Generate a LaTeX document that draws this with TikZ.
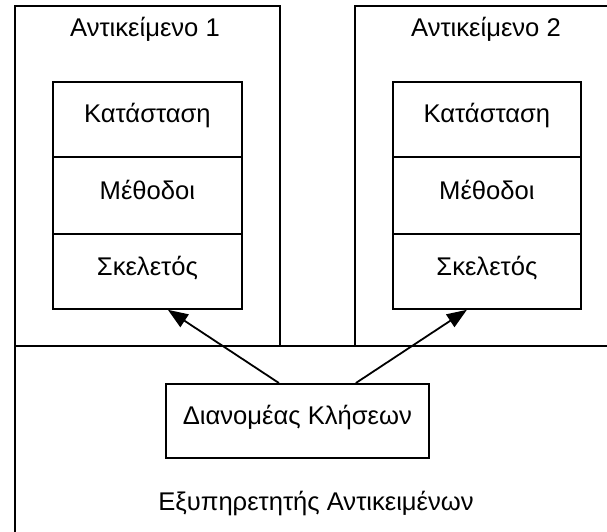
\documentclass[tikz,border=0pt]{standalone}
\usepackage{fontspec}
\setmainfont{Liberation Sans}
\usetikzlibrary{arrows.meta}
\begin{document}
\begin{tikzpicture}[x=1pt,y=-1pt,
  every node/.style={font=\fontsize{25.6}{30}\selectfont, inner sep=0pt, text height=0.72em, text depth=0pt},
  frame/.style={draw, line width=1.8pt, anchor=north west, minimum width=#1},
  cell/.style={draw, line width=1.8pt, anchor=north west, minimum width=189pt, align=center},
  lbl/.style={anchor=center},
  arr/.style={line width=1.8pt, -{Triangle[length=20pt,width=15pt]}}]
\useasboundingbox (0,0) rectangle (607,532);
\clip (0,0) rectangle (607,532);
% frames
\node[frame=265pt, minimum height=340pt] (obj1) at (14,5) {};
\node[frame=272pt, minimum height=340pt] (obj2) at (354,5) {};
\node[frame=612pt, minimum height=220pt] (server) at (14,345) {};
% frame labels
\node[lbl] (obj1lbl) at (145,32.5) {Αντικείμενο 1};
\node[lbl] (obj2lbl) at (486,32.5) {Αντικείμενο 2};
\node[lbl] (serverlbl) at (316,506.5) {Εξυπηρετητής Αντικειμένων};
% left stack
\node[cell, minimum height=75pt] (st1) at (52,81) {Κατάσταση};
\node[cell, minimum height=77pt] (me1) at (52,156) {Μέθοδοι};
\node[cell, minimum height=75pt] (sk1) at (52,233) {Σκελετός};
% right stack
\node[cell, minimum width=188pt, minimum height=75pt] (st2) at (392,81) {Κατάσταση};
\node[cell, minimum width=188pt, minimum height=77pt] (me2) at (392,156) {Μέθοδοι};
\node[cell, minimum width=188pt, minimum height=75pt] (sk2) at (392,233) {Σκελετός};
% dispatcher
\node[draw, line width=1.8pt, anchor=north west, minimum width=263pt, minimum height=74pt] (disp) at (165,383) {Διανομέας Κλήσεων};
% arrows
\draw[arr] ([xshift=-18.5pt]disp.north) -- ([xshift=20.5pt]sk1.south);
\draw[arr] ([xshift=58.5pt]disp.north) -- ([xshift=-20pt]sk2.south);
\end{tikzpicture}
\end{document}
